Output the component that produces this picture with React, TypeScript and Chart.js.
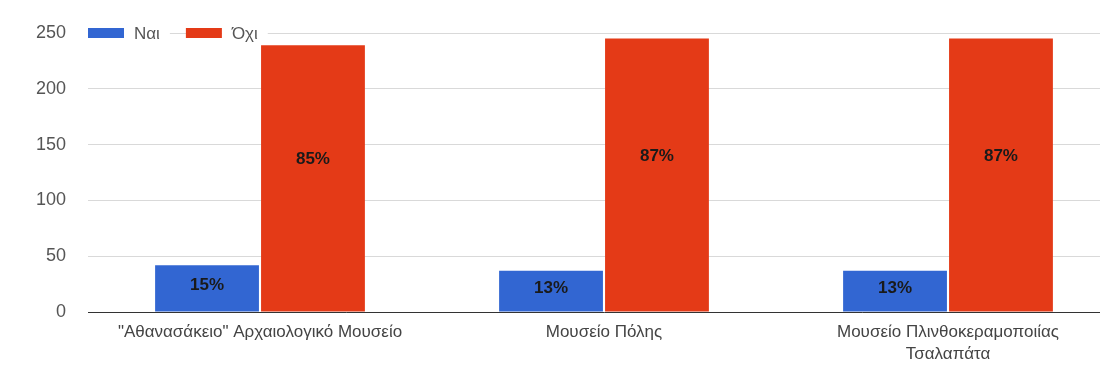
import React, { useEffect, useRef } from "react";
import { Chart, registerables } from "chart.js";

Chart.register(...registerables);

const categories: (string | string[])[] = [
  "\"Αθανασάκειο\" Αρχαιολογικό Μουσείο",
  "Μουσείο Πόλης",
  ["Μουσείο Πλινθοκεραμοποιίας", "Τσαλαπάτα"],
];
const seriesNames = ["Ναι", "Όχι"];
const yesValues = [42, 37, 37];
const noValues = [239, 245, 245];
const yesLabels = ["15%", "13%", "13%"];
const noLabels = ["85%", "87%", "87%"];
const yTicks = [0, 50, 100, 150, 200, 250];

const BLUE = "#3266d2";
const RED = "#e43a17";
const FONT = "'Liberation Sans', Arial, sans-serif";

const legendPlugin = {
  id: "customLegend",
  afterDraw(chart: any) {
    const ctx = chart.ctx;
    const area = chart.chartArea;
    const colors = [BLUE, RED];
    ctx.save();
    ctx.font = `17px ${FONT}`;
    ctx.textBaseline = "middle";
    let x = area.left;
    const cy = area.top;
    seriesNames.forEach((name, i) => {
      const tw = ctx.measureText(name).width;
      ctx.fillStyle = "#ffffff";
      ctx.fillRect(x + 36, cy - 9, tw + 20, 18);
      ctx.fillStyle = colors[i];
      ctx.fillRect(x, cy - 5, 36, 10);
      ctx.fillStyle = "#555555";
      ctx.textAlign = "left";
      ctx.fillText(name, x + 46, cy + 1);
      x += 46 + tw + 26;
    });
    ctx.restore();
  },
};

const valueLabelPlugin = {
  id: "valueLabels",
  afterDatasetsDraw(chart: any) {
    const ctx = chart.ctx;
    const labelSets = [yesLabels, noLabels];
    ctx.save();
    ctx.font = `bold 17px ${FONT}`;
    ctx.fillStyle = "#1a1a1a";
    ctx.textAlign = "center";
    ctx.textBaseline = "middle";
    chart.data.datasets.forEach((_: any, di: number) => {
      const meta = chart.getDatasetMeta(di);
      meta.data.forEach((bar: any, i: number) => {
        const y = bar.y + (bar.base - bar.y) * 0.43;
        ctx.fillText(labelSets[di][i], bar.x, y);
      });
    });
    ctx.restore();
  },
};

function BarChart() {
  const canvasRef = useRef<HTMLCanvasElement | null>(null);

  useEffect(() => {
    if (!canvasRef.current) return;
    const chart = new Chart(canvasRef.current, {
      type: "bar",
      data: {
        labels: categories,
        datasets: [
          {
            label: seriesNames[0],
            data: yesValues,
            backgroundColor: BLUE,
            barPercentage: 0.98,
            categoryPercentage: 0.616,
          },
          {
            label: seriesNames[1],
            data: noValues,
            backgroundColor: RED,
            barPercentage: 0.98,
            categoryPercentage: 0.616,
          },
        ],
      },
      options: {
        animation: false,
        responsive: true,
        maintainAspectRatio: false,
        layout: { autoPadding: false, padding: { top: 25, left: 0, right: 0, bottom: 0 } },
        plugins: {
          legend: { display: false },
          tooltip: { enabled: false },
        },
        scales: {
          x: {
            grid: { display: false, drawTicks: false },
            border: { display: true, color: "#333333", width: 1 },
            ticks: {
              color: "#444444",
              font: { family: FONT, size: 17, lineHeight: 1.3 },
              padding: 9,
              maxRotation: 0,
              autoSkip: false,
            },
            afterFit(scale: any) {
              scale.height = 60;
              scale.paddingLeft = 0;
              scale.paddingRight = 0;
            },
          },
          y: {
            min: 0,
            max: 250,
            afterBuildTicks(scale: any) {
              scale.ticks = yTicks.map((v) => ({ value: v }));
            },
            grid: { color: "#d9d9d9", drawTicks: false, lineWidth: 1 },
            border: { display: false },
            ticks: {
              color: "#555555",
              font: { family: FONT, size: 18 },
              padding: 22,
            },
            afterFit(scale: any) {
              scale.width = 80;
              scale.paddingTop = 0;
              scale.paddingBottom = 0;
            },
          },
        },
      },
      plugins: [legendPlugin, valueLabelPlugin],
    });
    return () => chart.destroy();
  }, []);

  return (
    <div style={{ width: 1100, height: 364, overflow: "hidden", background: "#fff" }}>
      <div style={{ width: 1112, height: 364, position: "relative" }}>
        <canvas ref={canvasRef} />
      </div>
    </div>
  );
}

export default function App() {
  return <BarChart />;
}
